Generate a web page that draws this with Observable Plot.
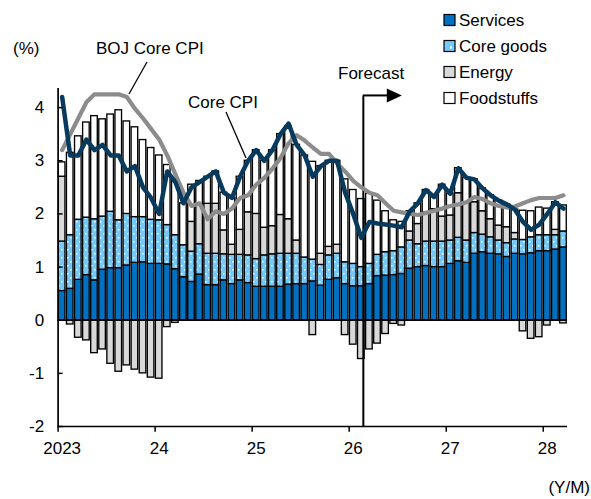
<!DOCTYPE html>
<html><head><meta charset="utf-8">
<script src="https://cdn.jsdelivr.net/npm/d3@7"></script>
<script src="https://cdn.jsdelivr.net/npm/@observablehq/plot@0.6"></script>
<style>
html,body{margin:0;padding:0;background:#fff;}
#chart{position:relative;width:591px;height:499px;}
</style></head><body>
<svg width="0" height="0" style="position:absolute"><defs>
<pattern id="dots" patternUnits="userSpaceOnUse" width="6" height="8">
<rect width="6" height="8" fill="#76c8f7"/>
<rect x="1" y="1" width="1.5" height="1.5" fill="#fff"/>
<rect x="4" y="5" width="1.5" height="1.5" fill="#fff"/>
</pattern></defs></svg>
<div id="chart"></div>
<script>
const months = [
 "2023/01","2023/02","2023/03","2023/04","2023/05","2023/06","2023/07","2023/08","2023/09","2023/10","2023/11","2023/12",
 "2024/01","2024/02","2024/03","2024/04","2024/05","2024/06","2024/07","2024/08","2024/09","2024/10","2024/11","2024/12",
 "2025/01","2025/02","2025/03","2025/04","2025/05","2025/06","2025/07","2025/08","2025/09","2025/10","2025/11","2025/12",
 "2026/01","2026/02","2026/03","2026/04","2026/05","2026/06","2026/07","2026/08","2026/09","2026/10","2026/11","2026/12",
 "2027/01","2027/02","2027/03","2027/04","2027/05","2027/06","2027/07","2027/08","2027/09","2027/10","2027/11","2027/12",
 "2028/01","2028/02","2028/03"];

const services = [
 .55,.59,.76,.85,.75,.95,.98,.98,1.03,1.08,1.09,1.06,
 1.06,1.05,.96,.81,.72,.86,.66,.66,.75,.68,.75,.70,
 .63,.63,.63,.63,.67,.68,.68,.73,.65,.76,.79,.68,
 .64,.64,.68,.83,.84,.85,.87,.97,1.0,1.02,1.0,1.0,
 1.06,1.11,1.08,1.25,1.28,1.25,1.24,1.19,1.25,1.24,1.26,1.30,
 1.30,1.33,1.37];
const coreGoods = [
 .93,1.01,1.13,1.08,1.15,1.0,1.06,.90,.97,.86,.85,.83,
 .82,.74,.64,.60,.57,.57,.59,.59,.49,.55,.48,.52,
 .52,.59,.61,.62,.58,.57,.50,.41,.39,.46,.46,.41,
 .42,.36,.38,.40,.44,.45,.50,.53,.43,.46,.48,.48,
 .44,.44,.42,.39,.33,.31,.26,.26,.27,.27,.30,.30,
 .30,.27,.30];
const energy = [
 1.22,-.08,-.33,-.38,-.62,-.55,-.82,-.97,-.85,-.93,-1.0,-1.08,
 -1.1,-.13,-.05,0,.56,.75,.94,.94,.45,.19,.47,.81,
 .85,.52,.53,.73,.65,.25,0,-.28,.21,.16,.17,-.28,
 -.46,-.73,-.55,-.44,-.26,-.07,-.10,.17,.38,.55,.61,.47,
 .47,.84,.71,.58,.44,.34,.28,.30,.12,-.21,-.35,-.32,
 -.10,.10,-.06];
const foodstuffs = [
 .27,1.55,1.57,1.79,1.94,1.83,1.83,2.07,1.74,1.69,1.45,1.35,
 1.22,1.13,1.05,.79,.70,.44,.51,.61,.71,.88,1.0,.97,
 1.2,1.26,1.43,1.52,1.75,1.8,1.92,1.84,1.65,1.62,1.58,1.56,
 1.39,1.28,1.32,1.02,.77,.58,.48,.38,.39,.42,.26,.60,
 .41,.47,.47,.43,.43,.45,.47,.43,.44,.55,.49,.52,
 .50,.52,.49];
const coreCPI = [
 4.2,3.1,3.1,3.4,3.2,3.3,3.1,3.1,2.8,2.9,2.5,2.3,
 2.0,2.8,2.6,2.2,2.5,2.6,2.7,2.8,2.4,2.3,2.7,3.0,
 3.2,3.0,3.2,3.5,3.7,3.3,3.1,2.7,2.9,3.0,3.0,2.4,
 2.0,1.55,1.85,1.82,1.8,1.78,1.75,2.05,2.2,2.45,2.32,2.55,
 2.38,2.86,2.68,2.65,2.48,2.35,2.25,2.18,2.08,1.85,1.7,1.8,
 2.0,2.22,2.1];
const bojCoreCPI = [
 3.2,3.5,3.8,4.1,4.25,4.25,4.25,4.25,4.2,3.98,3.8,3.6,
 3.4,3.1,2.75,2.4,2.15,2.2,1.9,2.05,2.0,2.1,2.3,2.35,
 2.55,2.68,2.85,3.05,3.33,3.48,3.38,3.25,3.13,3.13,2.95,2.8,
 2.62,2.5,2.4,2.35,2.2,2.06,2.03,2.0,1.98,2.02,2.06,2.1,
 2.15,2.18,2.22,2.32,2.28,2.2,2.15,2.12,2.14,2.2,2.26,2.3,
 2.3,2.3,2.35];

const categories = ["Services", "Core goods", "Energy", "Foodstuffs"];
const categoryFills = ["#0070c0", "url(#dots)", "#d9d9d9", "#ffffff"];
const yTicks = [4, 3, 2, 1, 0, -1, -2];
const yearLabels = ["2023", "24", "25", "26", "27", "28"];
const yearStarts = yearLabels.map((_, i) => i * 12);
const forecastAt = 37.75;   // month index where the forecast marker stands
const forecastTop = 4.22;

const series = [services, coreGoods, energy, foodstuffs];
const rows = [];
months.forEach((m, k) => {
  series.forEach((arr, j) => {
    if (arr[k] !== 0) rows.push({k, month: m, cat: categories[j], v: arr[k]});
  });
});
const lineRows = months.map((m, k) => ({k, month: m, core: coreCPI[k], boj: bojCoreCPI[k]}));

const FONT = "'Liberation Sans', Arial, sans-serif";

const plot = Plot.plot({
  width: 591, height: 499,
  marginLeft: 57.6, marginRight: 24, marginTop: 88, marginBottom: 73,
  style: {fontFamily: FONT, fontSize: "17px", background: "#fff", overflow: "visible"},
  x: {domain: [0, months.length], axis: null},
  y: {domain: [-2, 4.36], axis: null},
  color: {domain: categories, range: categoryFills},
  marks: [
    Plot.rectY(rows, {x1: "k", x2: d => d.k + 1, y: "v", fill: "cat", stroke: "#000", strokeWidth: 1.35, insetLeft: 0.75, insetRight: 0.75}),
    Plot.ruleY([0], {x1: 0, x2: months.length, stroke: "#000", strokeWidth: 1.6}),
    Plot.ruleX([forecastAt], {y1: -2, y2: forecastTop, stroke: "#000", strokeWidth: 2}),
    Plot.line(lineRows, {x: d => d.k + 0.5, y: "boj", stroke: "#8c8c8c", strokeWidth: 4.2, strokeLinejoin: "round"}),
    Plot.line(lineRows, {x: d => d.k + 0.5, y: "core", stroke: "#073a5c", strokeWidth: 4.5, strokeLinejoin: "round"}),
    Plot.ruleX([0], {y1: -2, y2: 4.36, stroke: "#000", strokeWidth: 1.7}),
    Plot.ruleY([-2], {x1: 0, x2: months.length, stroke: "#000", strokeWidth: 1.7}),
    Plot.ruleY(yTicks, {x1: 0, x2: 0.62, stroke: "#000", strokeWidth: 1.5}),
    Plot.ruleX(yearStarts, {y1: -2, y2: -2.11, stroke: "#000", strokeWidth: 1.5}),
    Plot.text(yTicks, {x: 0, y: d => d, dx: -14, textAnchor: "end", text: d => String(d), fontSize: 17}),
    Plot.text(yearStarts, {x: d => d + 0.5, y: -2, dy: 22, text: (d, i) => yearLabels[i], fontSize: 17})
  ]
});

document.getElementById("chart").appendChild(plot);

const svg = d3.select(plot);
const sx = plot.scale("x"), sy = plot.scale("y");
const g = svg.append("g").attr("font-family", FONT).attr("font-size", 17)
  .attr("fill", "#000").attr("text-anchor", "start");

// forecast arrow
const fx = sx.apply(forecastAt), fy = sy.apply(forecastTop);
g.append("path").attr("d", `M${fx},${fy}H${fx + 25}`).attr("stroke", "#000").attr("stroke-width", 2).attr("fill", "none");
g.append("path").attr("d", `M${fx + 24},${fy - 7}L${fx + 39},${fy}L${fx + 24},${fy + 7}Z`).attr("fill", "#000");
g.append("text").attr("x", 338).attr("y", 79).text("Forecast");

// labels
g.append("text").attr("x", 13).attr("y", 54).text("(%)");
g.append("text").attr("x", 96).attr("y", 54).text("BOJ Core CPI");
g.append("path").attr("d", "M147,62L129,94").attr("stroke", "#000").attr("stroke-width", 1.3);
g.append("text").attr("x", 188).attr("y", 108).text("Core CPI");
g.append("path").attr("d", "M226,112L246,158").attr("stroke", "#000").attr("stroke-width", 1.3);
g.append("text").attr("x", 590).attr("y", 493).attr("text-anchor", "end").text("(Y/M)");

// legend
const legendY = [20, 46, 72, 98];
categories.forEach((c, i) => {
  const cy = legendY[i];
  g.append("rect").attr("x", 444).attr("y", cy - 5.5).attr("width", 11).attr("height", 11)
    .attr("fill", i === 1 ? "#76c8f7" : categoryFills[i]).attr("stroke", "#000").attr("stroke-width", 1.2);
  if (i === 1) g.append("rect").attr("x", 450).attr("y", cy + 0.5).attr("width", 2).attr("height", 2).attr("fill", "#fff");
  g.append("text").attr("x", 459).attr("y", cy + 6).text(c);
});
</script>
</body></html>
